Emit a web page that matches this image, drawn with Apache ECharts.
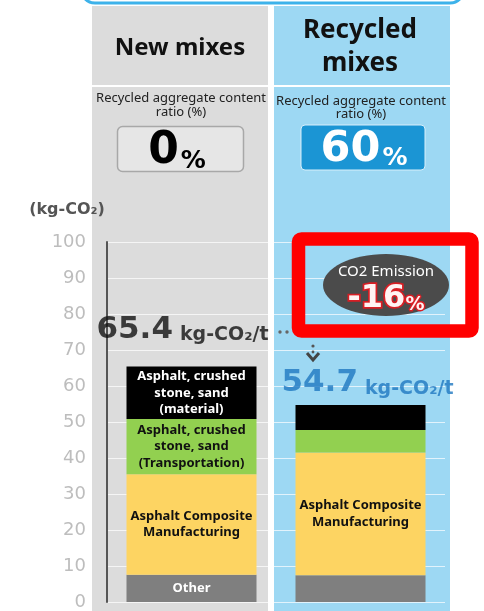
<!DOCTYPE html>
<html><head><meta charset="utf-8">
<script src="https://cdn.jsdelivr.net/npm/echarts@6/dist/echarts.min.js"></script>
<style>html,body{margin:0;padding:0;background:#fff}#c{width:484px;height:611px}</style>
</head><body><div id="c"></div>
<script>
// ---- data ----
const categories = ['New mixes', 'Recycled mixes'];
const recycledRatio = [0, 60];
const other = [7.6, 7.4];
const manufacturing = [27.9, 34.1];
const transportation = [15.3, 6.3];
const material = [14.6, 6.9];
const totals = [65.4, 54.7];
const yMin = 0, yMax = 100, yStep = 10;
const unitText = 'kg-CO₂/t';
const axisName = '(kg-CO₂)';
const segLabels = {
  other: ['Other', ''],
  manufacturing: ['Asphalt Composite\nManufacturing', 'Asphalt Composite\nManufacturing'],
  transportation: ['Asphalt, crushed\nstone, sand\n(Transportation)', ''],
  material: ['Asphalt, crushed\nstone, sand\n(material)', '']
};
const change = Math.round((totals[1] - totals[0]) / totals[0] * 100);

// ---- chart ----
const chart = echarts.init(document.getElementById('c'));
const FONT = "'Noto Sans', sans-serif";
function segLabel(key, color) {
  return {
    show: true, position: 'inside', color: color, fontFamily: FONT,
    fontSize: 13, fontWeight: 'bold', lineHeight: 16.5,
    formatter: p => segLabels[key][p.dataIndex]
  };
}
const totalStyles = [
  {distance: 21, offset: [-9, 0], color: '#111'},
  {distance: 6, offset: [7, 0], color: '#1f78c1'}
];
const gfx = [
  // top arc (bottom edge of a rounded frame)
  {type: 'rect', z: -1, shape: {x: 81, y: -30, width: 383, height: 33, r: 14}, style: {fill: 'none', stroke: '#3db2ea', lineWidth: 3}},
  // panels
  {type: 'rect', z: -1, shape: {x: 92, y: 6, width: 176, height: 605}, style: {fill: '#dcdcdc'}},
  {type: 'rect', z: -1, shape: {x: 274, y: 6, width: 176, height: 605}, style: {fill: '#9dd8f3'}},
  {type: 'rect', z: -1, shape: {x: 92, y: 85, width: 358, height: 2}, style: {fill: '#ffffff'}},
  // headers
  {type: 'text', z: 10, x: 180, y: 48, style: {text: categories[0], font: "bold 24px 'Noto Sans'", fill: '#111', align: 'center', verticalAlign: 'middle'}},
  {type: 'text', z: 10, x: 360, y: 47, style: {text: 'Recycled\nmixes', font: "bold 26px 'Noto Sans'", lineHeight: 33, fill: '#111', align: 'center', verticalAlign: 'middle'}},
  {type: 'text', z: 10, x: 181, y: 105, style: {text: 'Recycled aggregate content\nratio (%)', font: "13px 'Noto Sans'", lineHeight: 14, fill: '#222', align: 'center', verticalAlign: 'middle'}},
  {type: 'text', z: 10, x: 361, y: 108, style: {text: 'Recycled aggregate content\nratio (%)', font: "13px 'Noto Sans'", lineHeight: 13.5, fill: '#222', align: 'center', verticalAlign: 'middle'}},
  // ratio boxes
  {type: 'rect', z: 10, shape: {x: 117.5, y: 126.5, width: 126, height: 45, r: 5}, style: {fill: '#e6e6e6', stroke: '#a8a8a8', lineWidth: 1.5}},
  {type: 'text', z: 11, x: 177, y: 152, style: {
    text: '{n|' + recycledRatio[0] + '}{p|%}', align: 'center', verticalAlign: 'middle',
    rich: {n: {font: "bold 44px 'DejaVu Sans'", fill: '#000', lineHeight: 44, verticalAlign: 'bottom'},
           p: {font: "bold 25px 'DejaVu Sans'", fill: '#000', lineHeight: 30, verticalAlign: 'bottom', padding: [0, 0, 0, 2]}}}},
  {type: 'rect', z: 10, shape: {x: 301, y: 125, width: 124, height: 45, r: 4}, style: {fill: '#1b95d4', stroke: '#d8effb', lineWidth: 1}},
  {type: 'text', z: 11, x: 364, y: 149.5, style: {
    text: '{n|' + recycledRatio[1] + '}{p|%}', align: 'center', verticalAlign: 'middle',
    rich: {n: {font: "bold 43px 'DejaVu Sans'", fill: '#fff', lineHeight: 43, verticalAlign: 'bottom'},
           p: {font: "bold 25px 'DejaVu Sans'", fill: '#fff', lineHeight: 29, verticalAlign: 'bottom', padding: [0, 0, 0, 2]}}}},
  // y axis name
  {type: 'text', z: 10, x: 67, y: 210, style: {text: axisName, font: "bold 16px 'DejaVu Sans'", fill: '#555', align: 'center', verticalAlign: 'middle'}},
  // connector dots and arrow
  {type: 'circle', z: 10, shape: {cx: 280, cy: 332, r: 1.7}, style: {fill: '#666'}},
  {type: 'circle', z: 10, shape: {cx: 287, cy: 332, r: 1.7}, style: {fill: '#666'}},
  {type: 'circle', z: 10, shape: {cx: 313, cy: 346, r: 1.6}, style: {fill: '#555'}},
  {type: 'circle', z: 10, shape: {cx: 313, cy: 352, r: 1.4}, style: {fill: '#555'}},
  {type: 'polyline', z: 10, shape: {points: [[307, 353], [313, 360], [319, 353]]}, style: {stroke: '#444', lineWidth: 3, fill: 'none'}},
  // highlight box
  {type: 'rect', z: 20, shape: {x: 298.5, y: 239, width: 173.5, height: 92, r: 3}, style: {fill: 'none', stroke: '#ff0000', lineWidth: 13.5}},
  {type: 'ellipse', z: 20, shape: {cx: 386, cy: 285, rx: 63, ry: 31}, style: {fill: '#4b4b4b'}},
  {type: 'text', z: 21, x: 386, y: 272, style: {text: 'CO2 Emission', font: "15px 'Noto Sans'", fill: '#fff', align: 'center', verticalAlign: 'middle'}},
  {type: 'text', z: 21, x: 386, y: 300, style: {
    text: '{n|' + change + '}{p|%}', align: 'center', verticalAlign: 'middle',
    rich: {n: {font: "bold 32px 'DejaVu Sans'", fill: '#fff3f3', stroke: '#d81e24', lineWidth: 3.5, lineHeight: 30, verticalAlign: 'bottom'},
           p: {font: "bold 19px 'DejaVu Sans'", fill: '#fff3f3', stroke: '#d81e24', lineWidth: 3, lineHeight: 22, verticalAlign: 'bottom'}}}}
];

chart.setOption({
  animation: false,
  backgroundColor: '#fff',
  graphic: gfx,
  grid: {left: 107, right: 39, top: 242, bottom: 3, containLabel: false},
  xAxis: {type: 'category', data: categories, show: false, boundaryGap: true},
  yAxis: {
    type: 'value', min: yMin, max: yMax, interval: yStep,
    axisLine: {show: true, lineStyle: {color: '#555', width: 2}},
    axisTick: {show: false},
    axisLabel: {color: '#bdbdbd', fontSize: 18, fontFamily: 'DejaVu Sans', margin: 21},
    splitLine: {show: true, lineStyle: {color: 'rgba(255,255,255,0.7)', width: 1.2}}
  },
  series: [
    {name: 'Other', type: 'bar', stack: 'co2', barWidth: 130, data: other, itemStyle: {color: '#7f7f7f'}, label: segLabel('other', '#fff')},
    {name: 'Manufacturing', type: 'bar', stack: 'co2', barWidth: 130, data: manufacturing, itemStyle: {color: '#fdd462'}, label: segLabel('manufacturing', '#111')},
    {name: 'Transportation', type: 'bar', stack: 'co2', barWidth: 130, data: transportation, itemStyle: {color: '#92d050'}, label: segLabel('transportation', '#111')},
    {name: 'Material', type: 'bar', stack: 'co2', barWidth: 130, data: material, itemStyle: {color: '#000'}, label: segLabel('material', '#fff')},
    {name: 'Total', type: 'scatter', symbolSize: 1, itemStyle: {color: 'rgba(0,0,0,0)'}, z: 5,
     data: totals.map((v, i) => ({value: v, label: {distance: totalStyles[i].distance, offset: totalStyles[i].offset,
       rich: {a: {fontSize: 31, fontWeight: 'bold', fontFamily: 'DejaVu Sans', color: totalStyles[i].color, verticalAlign: 'bottom', lineHeight: 32},
              b: {fontSize: 19, fontWeight: 'bold', fontFamily: 'DejaVu Sans', color: totalStyles[i].color, verticalAlign: 'bottom', lineHeight: 25, padding: [0, 0, 0, 7]}}}})),
     label: {show: true, position: 'top', formatter: p => '{a|' + p.value + '}{b|' + unitText + '}'}}
  ]
});
</script>
</body></html>
